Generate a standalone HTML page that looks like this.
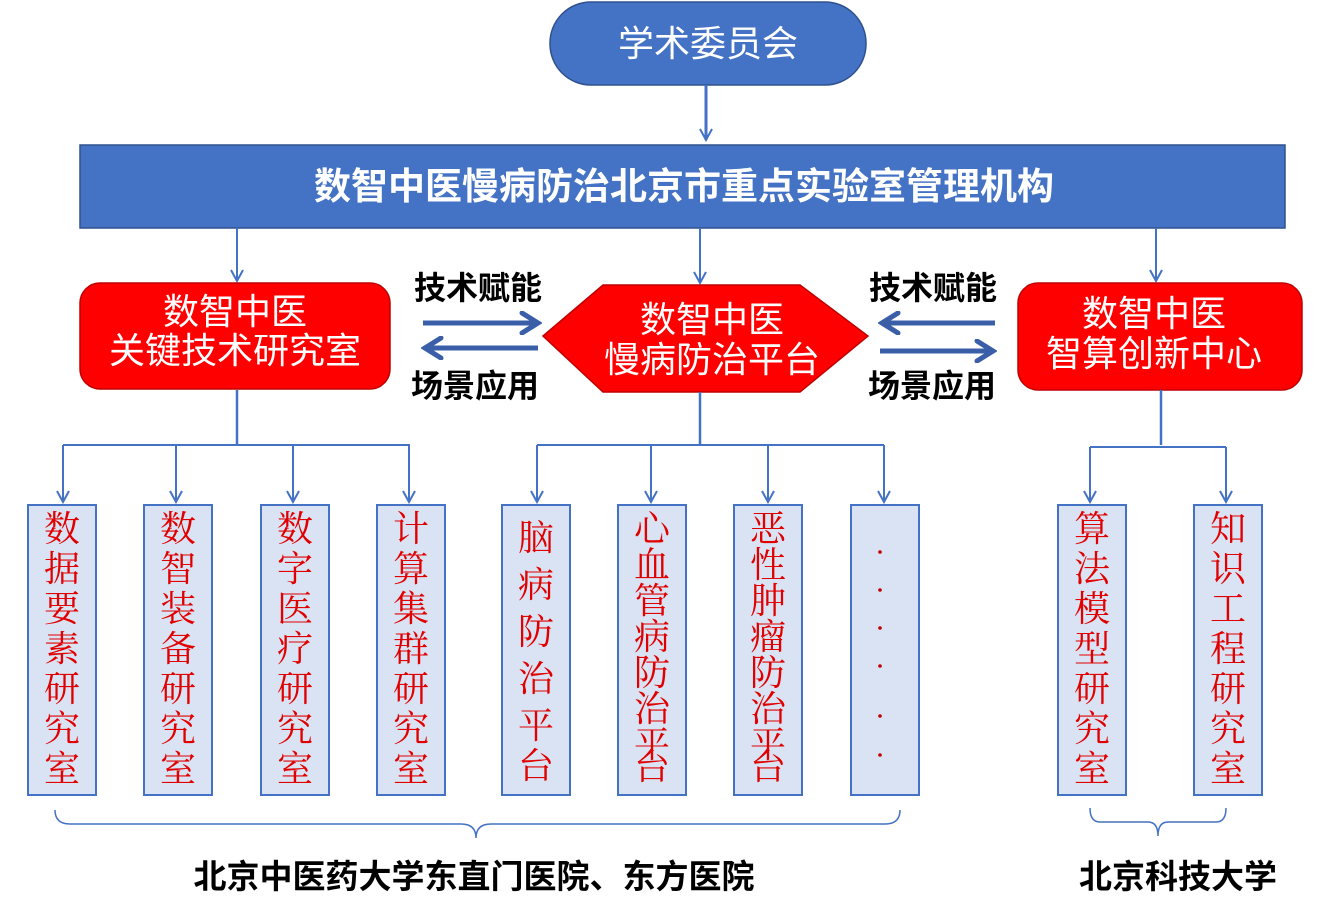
<!DOCTYPE html>
<html><head><meta charset="utf-8"><style>
html,body{margin:0;padding:0;background:#fff}
svg{display:block}
.w{font-family:"Liberation Sans","Noto Sans CJK SC",sans-serif;fill:#fff}
.b{font-family:"Liberation Sans","Noto Sans CJK SC",sans-serif;fill:#000;font-weight:bold}
.r{font-family:"Liberation Serif","Noto Serif CJK SC",serif;fill:#e00000;font-size:36px}
</style></head><body>
<svg width="1320" height="906" viewBox="0 0 1320 906">
<defs>
<marker id="a" markerWidth="14" markerHeight="14" refX="12" refY="7" orient="auto" markerUnits="userSpaceOnUse">
<path d="M1,1 L12,7 L1,13" fill="none" stroke="#4472c4" stroke-width="2"/></marker>
<marker id="a2" markerWidth="24" markerHeight="24" refX="20" refY="12" orient="auto" markerUnits="userSpaceOnUse">
<path d="M4,2 L20,12 L4,22" fill="none" stroke="#3a5fa8" stroke-width="5" stroke-linecap="round"/></marker>
</defs>
<rect x="550" y="2" width="316" height="83" rx="41" fill="#4472c4" stroke="#2f528f" stroke-width="1.5"/>
<text class="w" x="708" y="56" font-size="36" text-anchor="middle">学术委员会</text>
<line x1="706" y1="85" x2="706" y2="140" stroke="#4472c4" stroke-width="3" marker-end="url(#a)"/>
<rect x="80" y="145" width="1205" height="83" fill="#4472c4" stroke="#2f528f" stroke-width="1.5"/>
<text class="w" x="684" y="199" font-size="37" font-weight="bold" text-anchor="middle">数智中医慢病防治北京市重点实验室管理机构</text>
<g stroke="#4472c4" stroke-width="2" fill="none">
<line x1="237" y1="228" x2="237" y2="281" marker-end="url(#a)"/>
<line x1="700" y1="228" x2="700" y2="283" marker-end="url(#a)"/>
<line x1="1156" y1="228" x2="1156" y2="281" marker-end="url(#a)"/>
</g>
<rect x="80" y="283" width="310" height="106" rx="20" fill="#f00" stroke="#c00000" stroke-width="1.5"/>
<text class="w" x="235" y="324" font-size="36" text-anchor="middle">数智中医</text>
<text class="w" x="235" y="363" font-size="36" text-anchor="middle">关键技术研究室</text>
<polygon points="543,336 603,285 800,285 868,336 800,392 603,392" fill="#f00" stroke="#c00000" stroke-width="1.5"/>
<text class="w" x="712" y="332" font-size="36" text-anchor="middle">数智中医</text>
<text class="w" x="712" y="372" font-size="36" text-anchor="middle">慢病防治平台</text>
<rect x="1018" y="283" width="284" height="107" rx="20" fill="#f00" stroke="#c00000" stroke-width="1.5"/>
<text class="w" x="1154" y="326" font-size="36" text-anchor="middle">数智中医</text>
<text class="w" x="1154" y="366" font-size="36" text-anchor="middle">智算创新中心</text>
<g stroke="#3a5fa8" stroke-width="5" fill="none">
<line x1="423" y1="323" x2="538" y2="323" marker-end="url(#a2)"/>
<line x1="538" y1="348" x2="425" y2="348" marker-end="url(#a2)"/>
<line x1="995" y1="323" x2="882" y2="323" marker-end="url(#a2)"/>
<line x1="880" y1="351" x2="993" y2="351" marker-end="url(#a2)"/>
</g>
<text class="b" x="478" y="299" font-size="32" text-anchor="middle">技术赋能</text>
<text class="b" x="475" y="397" font-size="32" text-anchor="middle">场景应用</text>
<text class="b" x="933" y="299" font-size="32" text-anchor="middle">技术赋能</text>
<text class="b" x="932" y="397" font-size="32" text-anchor="middle">场景应用</text>
<g stroke="#4472c4" stroke-width="2.5" fill="none">
<line x1="237" y1="390" x2="237" y2="445"/>
<line x1="700" y1="392" x2="700" y2="445"/>
<line x1="1161" y1="390" x2="1161" y2="445"/>
</g>
<g stroke="#4472c4" stroke-width="2" fill="none">
<polyline points="63,445 410,445"/>
<polyline points="537,445 884,445"/>
<polyline points="1090,447 1226,447"/>
<line x1="63" y1="445" x2="63" y2="502" marker-end="url(#a)"/>
<line x1="176" y1="445" x2="176" y2="502" marker-end="url(#a)"/>
<line x1="293" y1="445" x2="293" y2="502" marker-end="url(#a)"/>
<line x1="409" y1="445" x2="409" y2="502" marker-end="url(#a)"/>
<line x1="537" y1="445" x2="537" y2="502" marker-end="url(#a)"/>
<line x1="651" y1="445" x2="651" y2="502" marker-end="url(#a)"/>
<line x1="768" y1="445" x2="768" y2="502" marker-end="url(#a)"/>
<line x1="884" y1="445" x2="884" y2="502" marker-end="url(#a)"/>
<line x1="1090" y1="447" x2="1090" y2="502" marker-end="url(#a)"/>
<line x1="1226" y1="447" x2="1226" y2="502" marker-end="url(#a)"/>
</g>
<g fill="#dae3f3" stroke="#4472c4" stroke-width="2">
<rect x="28" y="505" width="68" height="290"/>
<rect x="144" y="505" width="68" height="290"/>
<rect x="261" y="505" width="68" height="290"/>
<rect x="377" y="505" width="68" height="290"/>
<rect x="502" y="505" width="68" height="290"/>
<rect x="618" y="505" width="68" height="290"/>
<rect x="734" y="505" width="68" height="290"/>
<rect x="851" y="505" width="68" height="290"/>
<rect x="1058" y="505" width="68" height="290"/>
<rect x="1194" y="505" width="68" height="290"/>
</g>
<g class="r" text-anchor="middle">
<text x="62" y="541">数</text><text x="62" y="581">据</text><text x="62" y="621">要</text><text x="62" y="661">素</text><text x="62" y="701">研</text><text x="62" y="741">究</text><text x="62" y="781">室</text>
<text x="178" y="541">数</text><text x="178" y="581">智</text><text x="178" y="621">装</text><text x="178" y="661">备</text><text x="178" y="701">研</text><text x="178" y="741">究</text><text x="178" y="781">室</text>
<text x="295" y="541">数</text><text x="295" y="581">字</text><text x="295" y="621">医</text><text x="295" y="661">疗</text><text x="295" y="701">研</text><text x="295" y="741">究</text><text x="295" y="781">室</text>
<text x="411" y="541">计</text><text x="411" y="581">算</text><text x="411" y="621">集</text><text x="411" y="661">群</text><text x="411" y="701">研</text><text x="411" y="741">究</text><text x="411" y="781">室</text>
<text x="536" y="550">脑</text><text x="536" y="597">病</text><text x="536" y="644">防</text><text x="536" y="691">治</text><text x="536" y="738">平</text><text x="536" y="778">台</text>
<text x="652" y="541">心</text><text x="652" y="577">血</text><text x="652" y="613">管</text><text x="652" y="649">病</text><text x="652" y="685">防</text><text x="652" y="721">治</text><text x="652" y="757">平</text><text x="652" y="779">台</text>
<text x="768" y="541">恶</text><text x="768" y="577">性</text><text x="768" y="613">肿</text><text x="768" y="649">瘤</text><text x="768" y="685">防</text><text x="768" y="721">治</text><text x="768" y="757">平</text><text x="768" y="779">台</text>
<text x="1092" y="541">算</text><text x="1092" y="581">法</text><text x="1092" y="621">模</text><text x="1092" y="661">型</text><text x="1092" y="701">研</text><text x="1092" y="741">究</text><text x="1092" y="781">室</text>
<text x="1228" y="541">知</text><text x="1228" y="581">识</text><text x="1228" y="621">工</text><text x="1228" y="661">程</text><text x="1228" y="701">研</text><text x="1228" y="741">究</text><text x="1228" y="781">室</text>
</g>
<g fill="#c00000">
<circle cx="880" cy="552" r="1.8"/><circle cx="880" cy="590" r="1.8"/><circle cx="880" cy="628" r="1.8"/><circle cx="880" cy="666" r="1.8"/><circle cx="880" cy="716" r="1.8"/><circle cx="880" cy="755" r="1.8"/>
</g>
<g stroke="#4472c4" stroke-width="1.5" fill="none">
<path d="M55,810 Q55,824 70,824 L461,824 Q476,824 476,838 Q476,824 491,824 L885,824 Q900,824 900,810"/>
<path d="M1090,808 Q1090,822 1100,822 L1148,822 Q1158,822 1158,836 Q1158,822 1168,822 L1216,822 Q1226,822 1226,808"/>
</g>
<text class="b" x="474" y="888" font-size="33" text-anchor="middle">北京中医药大学东直门医院、东方医院</text>
<text class="b" x="1178" y="888" font-size="33" text-anchor="middle">北京科技大学</text>
</svg>
</body></html>
